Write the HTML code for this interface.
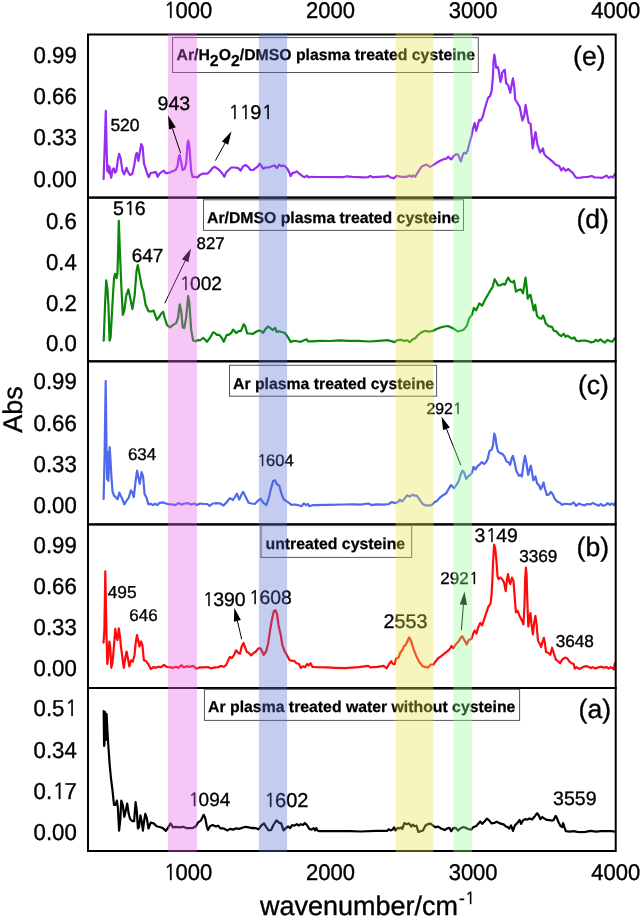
<!DOCTYPE html>
<html><head><meta charset="utf-8"><title>FTIR spectra</title>
<style>html,body{margin:0;padding:0;background:#fff;}svg{display:block;}</style>
</head><body>
<svg width="641" height="918" viewBox="0 0 641 918" font-family="'Liberation Sans', sans-serif" text-rendering="geometricPrecision">
<style>text{stroke:#000;stroke-width:0.35px}.b text{stroke-width:0.25px}</style>
<rect width="641" height="918" fill="#fff"/>
<path d="M103.6,179.1 L104.7,146.8 L105.8,110.8 L106.6,146.8 L107.3,171.2 L108.2,165.5 L108.9,173.0 L109.4,166.5 L110.3,174.0 L111.2,177.7 L112.6,169.3 L113.9,168.4 L115.0,172.6 L116.4,171.2 L117.8,159.9 L119.2,153.8 L120.6,158.1 L122.5,171.2 L124.2,174.4 L125.3,171.2 L126.5,167.9 L128.1,172.1 L130.0,174.9 L132.3,174.0 L134.2,165.5 L136.0,154.3 L137.0,152.9 L138.4,160.9 L139.8,152.4 L141.2,144.0 L142.6,146.8 L144.0,163.7 L145.9,169.3 L147.3,174.0 L148.7,177.2 L150.6,173.0 L152.9,172.6 L155.2,172.1 L156.2,172.4 L157.5,176.8 L160.0,173.1 L161.9,171.8 L163.7,170.6 L165.6,173.1 L167.5,173.1 L170.0,172.4 L172.5,171.2 L175.6,170.0 L177.5,166.2 L178.7,157.5 L179.7,155.0 L181.0,161.2 L182.5,170.0 L184.3,169.3 L186.2,163.7 L187.5,143.7 L188.3,140.6 L189.3,146.2 L191.2,171.2 L192.5,176.8 L195.0,176.8 L197.4,177.4 L200.0,174.9 L202.4,173.7 L204.9,173.7 L207.4,173.7 L209.9,171.2 L212.4,168.1 L214.9,166.8 L217.4,168.7 L219.9,170.6 L222.4,173.7 L224.3,176.8 L226.2,172.4 L228.7,170.0 L231.2,167.5 L235.0,167.5 L238.1,168.1 L240.6,170.6 L243.1,166.2 L245.6,165.0 L248.1,166.8 L250.6,170.0 L253.1,170.0 L255.6,168.1 L258.1,166.2 L259.7,163.7 L261.2,165.6 L263.1,168.7 L265.6,167.5 L268.7,167.5 L271.8,166.2 L274.3,165.3 L276.8,168.1 L279.3,164.7 L281.2,166.2 L283.1,165.6 L284.9,166.2 L287.4,168.7 L289.3,172.4 L290.6,176.2 L292.4,173.1 L294.9,172.4 L296.8,171.4 L299.3,173.7 L302.4,176.2 L304.9,177.2 L306.8,175.6 L308.7,177.4 L311.2,176.8 L315.0,177.0 L343.1,177.2 L346.8,176.3 L352.5,176.8 L363.7,177.4 L368.4,177.2 L370.2,175.9 L373.0,177.2 L378.7,176.8 L386.2,176.4 L387.7,175.5 L389.9,177.2 L393.7,178.3 L396.5,175.9 L401.1,176.8 L406.8,176.8 L409.6,175.5 L411.4,176.8 L413.3,175.3 L415.2,176.8 L418.0,172.1 L421.7,166.5 L426.4,164.6 L430.2,166.9 L434.7,164.1 L439.5,161.0 L444.2,158.9 L446.6,158.6 L448.2,156.7 L449.8,158.3 L451.3,159.4 L453.7,156.2 L456.1,154.2 L458.1,154.6 L459.7,158.6 L460.8,161.4 L462.4,156.2 L464.0,152.6 L466.0,153.5 L467.6,150.7 L469.5,142.8 L471.4,136.4 L473.0,128.5 L474.6,123.0 L476.2,130.9 L477.7,125.4 L479.3,119.8 L480.9,120.6 L483.0,115.9 L484.5,109.6 L486.6,102.5 L488.2,97.7 L490.1,96.1 L491.7,90.6 L492.9,76.4 L493.6,60.6 L494.3,54.5 L495.3,60.6 L496.1,67.7 L497.7,66.9 L498.8,70.8 L500.4,81.9 L501.9,76.4 L502.0,72.9 L504.3,70.0 L504.8,69.8 L506.1,83.1 L508.2,85.2 L510.2,92.7 L512.9,78.4 L514.3,87.2 L515.2,99.5 L517.7,103.5 L519.7,106.9 L522.4,120.5 L524.2,115.8 L525.6,104.9 L527.2,114.4 L528.6,122.6 L530.6,123.9 L532.7,148.4 L534.7,136.2 L535.6,132.1 L537.4,144.4 L540.1,152.5 L542.9,148.4 L544.2,153.9 L546.3,156.6 L549.0,158.6 L552.4,161.4 L555.8,164.8 L559.2,166.1 L561.4,170.4 L563.3,167.9 L565.6,170.7 L568.4,169.0 L570.3,170.9 L573.1,173.2 L575.4,177.0 L577.3,177.9 L580.6,177.6 L584.3,177.0 L588.1,176.8 L591.8,176.0 L594.6,177.5 L598.4,177.5 L601.7,177.9 L604.0,177.0 L606.8,175.6 L608.7,177.9 L611.0,176.5 L612.9,177.5 L614.8,174.2" fill="none" stroke="#962df0" stroke-width="2.2" stroke-linejoin="round" stroke-linecap="round"/>
<path d="M103.7,340.7 L105.1,303.2 L106.2,280.4 L107.4,288.5 L108.5,306.2 L109.6,340.7 L110.6,337.1 L112.5,303.2 L114.0,278.2 L115.1,273.8 L116.5,278.2 L117.4,273.8 L118.1,251.8 L118.8,220.9 L119.9,251.8 L121.3,285.6 L122.8,315.0 L124.3,310.6 L126.2,295.9 L128.4,289.3 L130.1,297.4 L132.4,309.1 L134.6,295.9 L136.5,270.9 L137.8,265.0 L139.4,273.8 L141.9,287.1 L143.4,291.5 L145.6,304.7 L148.5,311.3 L152.2,311.3 L153.7,310.6 L155.1,315.0 L156.9,319.9 L159.4,316.8 L161.2,313.7 L163.1,311.8 L165.0,318.7 L166.9,324.9 L170.0,327.4 L173.1,324.9 L176.2,323.1 L178.1,317.4 L179.7,304.3 L181.2,311.2 L182.7,327.4 L184.3,328.1 L186.2,317.4 L188.1,296.2 L189.3,302.5 L191.2,329.9 L193.1,340.5 L195.6,341.2 L198.1,339.9 L199.9,340.5 L203.1,338.0 L204.9,339.3 L206.8,341.8 L209.9,338.0 L213.1,332.4 L214.9,333.0 L216.8,334.9 L219.3,334.9 L221.8,338.0 L223.7,341.8 L226.8,334.9 L228.7,334.9 L231.2,333.0 L233.1,329.6 L236.2,333.1 L238.6,331.2 L240.9,331.2 L243.7,324.2 L245.3,326.5 L247.2,333.5 L249.5,333.5 L252.6,334.0 L255.7,332.0 L258.9,330.4 L261.2,331.2 L263.1,332.8 L265.6,328.9 L268.2,326.5 L271.3,328.9 L272.9,330.0 L275.2,327.8 L276.8,332.0 L279.1,331.2 L281.5,332.0 L284.6,332.8 L287.7,336.7 L290.8,342.1 L293.2,340.9 L296.3,341.0 L299.4,341.8 L301.8,341.3 L304.1,340.2 L306.4,339.3 L308.0,341.3 L311.1,341.3 L320.0,340.9 L330.0,341.0 L339.4,340.4 L348.7,340.9 L358.1,340.9 L369.3,341.5 L378.7,340.9 L388.1,340.2 L394.6,342.1 L397.4,340.2 L401.2,339.8 L404.0,340.9 L406.8,340.2 L409.6,342.1 L412.4,339.6 L415.2,338.3 L418.0,335.0 L421.8,332.1 L425.5,330.8 L429.3,331.6 L433.0,330.8 L436.7,329.0 L440.5,327.5 L444.2,326.5 L448.1,326.0 L451.2,327.5 L454.4,329.1 L457.5,331.4 L460.6,330.7 L463.7,329.6 L466.8,326.0 L469.2,318.2 L471.8,315.1 L473.9,308.0 L476.2,310.4 L479.3,303.4 L482.1,305.7 L484.8,300.2 L487.9,294.8 L491.0,289.3 L492.6,287.0 L494.6,279.2 L496.5,282.3 L498.0,285.4 L500.4,285.4 L502.7,283.9 L505.1,284.6 L506.6,280.7 L508.2,277.6 L510.5,281.5 L512.9,282.3 L514.0,280.7 L516.0,291.7 L518.3,290.1 L520.7,289.3 L523.0,293.2 L524.3,285.4 L525.5,277.6 L526.4,284.6 L527.7,298.7 L529.2,295.6 L530.5,294.8 L532.1,302.6 L533.6,310.4 L535.2,304.9 L537.0,315.8 L539.4,318.2 L541.5,318.7 L543.1,315.6 L544.4,318.7 L545.6,323.1 L548.7,326.2 L551.9,326.8 L553.7,330.6 L556.2,331.2 L558.7,334.3 L561.2,336.2 L563.7,333.7 L565.6,336.8 L567.5,335.6 L570.0,337.4 L572.5,338.7 L574.3,337.4 L576.2,340.6 L578.7,341.2 L581.8,340.6 L585.6,340.6 L588.1,341.2 L591.2,342.4 L593.7,341.8 L595.9,339.9 L598.1,341.2 L600.5,339.3 L602.4,341.2 L604.7,342.7 L607.4,339.9 L609.9,340.9 L612.2,341.8 L614.9,338.1" fill="none" stroke="#0a870a" stroke-width="2.2" stroke-linejoin="round" stroke-linecap="round"/>
<path d="M103.6,499.0 L104.6,455.0 L105.7,381.0 L106.5,450.0 L107.1,479.0 L107.6,452.0 L108.3,481.0 L109.7,447.0 L110.6,461.8 L111.5,477.9 L112.5,491.2 L114.0,495.6 L116.2,497.8 L117.6,499.3 L119.4,492.6 L120.6,495.6 L122.1,498.5 L124.3,504.4 L126.5,500.7 L128.7,497.8 L130.9,490.4 L132.4,492.6 L133.8,497.1 L135.6,480.9 L137.1,470.6 L138.5,477.9 L139.7,483.8 L141.6,472.1 L143.1,476.5 L144.6,494.1 L146.3,497.1 L148.5,504.4 L150.7,503.7 L152.9,505.1 L155.1,503.7 L157.3,505.1 L159.7,502.8 L162.8,502.4 L165.9,503.5 L169.0,504.3 L172.2,504.3 L175.3,505.1 L178.4,503.1 L181.5,504.6 L184.6,503.5 L187.8,503.1 L190.9,504.6 L194.0,503.5 L197.1,505.1 L200.2,503.5 L203.4,504.0 L207.3,504.0 L209.6,505.9 L212.7,503.5 L217.4,503.2 L220.5,503.5 L223.6,505.6 L226.8,502.0 L229.9,498.1 L233.0,500.0 L235.3,496.5 L236.9,493.7 L239.2,499.6 L241.6,494.6 L243.1,491.8 L245.5,496.5 L248.6,502.8 L251.7,503.5 L254.7,504.0 L257.8,500.9 L260.6,498.7 L263.3,502.9 L266.4,505.2 L268.7,498.2 L271.1,488.1 L273.1,481.1 L275.0,480.3 L276.8,484.2 L279.3,485.7 L281.2,492.8 L283.5,499.0 L286.7,501.3 L289.0,502.9 L291.3,504.9 L294.5,504.5 L298.4,505.2 L301.5,506.2 L303.8,503.4 L306.2,505.2 L308.0,504.0 L309.3,506.2 L312.4,505.2 L328.0,504.9 L343.6,504.5 L352.8,504.3 L360.6,504.6 L368.4,503.5 L371.5,505.1 L376.2,504.3 L384.0,504.6 L388.7,504.0 L391.8,502.0 L394.9,503.1 L398.0,502.0 L399.9,499.6 L401.9,501.5 L404.3,498.9 L407.1,495.3 L409.7,496.5 L412.9,494.6 L414.4,495.7 L416.8,495.7 L419.6,499.6 L422.2,503.5 L424.6,505.1 L427.7,505.6 L431.6,505.1 L434.7,502.0 L437.0,500.9 L439.4,498.1 L443.1,495.2 L446.2,493.3 L448.6,489.0 L450.9,485.1 L452.5,486.6 L454.0,488.2 L456.4,485.1 L458.7,481.2 L461.1,473.4 L462.6,470.6 L464.2,472.6 L466.2,478.8 L468.1,476.5 L470.4,474.6 L472.0,472.6 L473.5,466.8 L475.6,469.5 L477.4,466.3 L479.8,464.3 L481.8,462.1 L484.0,464.0 L486.0,462.1 L487.6,459.3 L489.6,450.7 L491.5,450.0 L493.0,445.3 L494.3,433.6 L495.4,436.7 L496.5,445.3 L498.0,451.5 L500.1,453.1 L502.4,453.9 L504.3,456.2 L506.3,461.2 L508.6,462.4 L510.2,464.8 L511.8,457.8 L513.0,455.9 L514.6,462.4 L516.4,471.0 L518.8,475.7 L520.3,474.9 L521.9,476.5 L523.5,464.0 L525.0,455.9 L526.6,464.0 L528.1,474.9 L529.4,470.2 L530.8,465.6 L532.0,471.8 L533.3,480.4 L534.4,478.8 L535.5,476.5 L536.7,481.9 L537.4,483.9 L539.0,485.2 L540.6,489.4 L542.3,485.9 L543.6,482.5 L544.9,488.5 L546.9,495.1 L548.9,494.5 L550.9,491.8 L552.9,494.5 L554.9,499.1 L557.5,501.8 L560.2,503.1 L562.2,504.8 L564.8,503.8 L568.2,504.0 L570.8,504.4 L573.7,502.4 L576.1,505.8 L578.8,503.5 L582.1,504.8 L584.7,505.4 L586.7,504.0 L590.0,504.4 L592.7,503.1 L596.0,504.4 L598.7,505.8 L600.6,504.0 L603.3,505.8 L606.0,504.8 L607.7,503.1 L609.9,504.8 L611.9,503.5 L613.9,505.1 L615.2,502.7" fill="none" stroke="#5068ec" stroke-width="2.2" stroke-linejoin="round" stroke-linecap="round"/>
<path d="M103.5,642.7 L104.4,630.2 L105.3,571.3 L106.0,610.1 L106.5,635.2 L107.3,664.0 L108.1,657.7 L109.4,641.5 L110.3,647.7 L111.3,667.8 L112.5,662.8 L113.8,647.7 L115.3,628.9 L116.5,637.7 L117.5,640.2 L118.8,628.3 L119.8,635.2 L121.1,647.7 L122.6,659.0 L123.8,667.8 L125.1,659.0 L126.6,651.5 L127.8,657.7 L129.4,666.5 L131.1,660.3 L132.8,661.5 L134.5,655.2 L135.7,642.7 L137.0,635.2 L138.2,640.2 L139.5,646.5 L141.1,641.5 L142.4,645.2 L143.9,660.3 L145.7,660.9 L148.2,664.0 L150.8,669.0 L153.3,667.1 L155.0,667.9 L158.1,666.8 L161.2,667.1 L164.0,664.8 L166.7,666.8 L169.8,667.1 L172.9,667.9 L176.1,666.8 L178.4,667.9 L181.2,665.2 L183.9,667.4 L187.0,666.3 L190.1,666.8 L193.2,665.9 L196.3,668.7 L199.5,667.4 L203.4,667.4 L208.0,667.1 L211.2,668.4 L215.1,667.4 L218.2,667.1 L221.3,665.9 L223.6,666.8 L226.0,665.2 L228.3,660.1 L229.9,657.0 L231.8,658.1 L233.8,655.4 L236.1,650.3 L237.7,652.3 L240.0,653.9 L241.6,646.8 L243.5,642.9 L245.2,647.6 L246.6,651.5 L248.9,653.0 L251.2,655.4 L253.6,653.0 L255.9,651.5 L258.3,648.4 L260.6,648.4 L262.2,651.5 L263.7,654.9 L266.1,651.5 L268.1,643.7 L270.0,631.2 L271.8,620.3 L273.9,610.9 L275.4,610.1 L277.0,614.0 L278.5,625.0 L280.6,634.3 L282.4,645.2 L284.8,651.5 L287.1,655.4 L289.5,660.1 L291.8,660.8 L294.1,660.8 L296.5,663.2 L298.8,663.7 L300.9,667.9 L303.0,666.3 L305.1,667.1 L307.1,664.0 L308.7,665.5 L310.5,663.2 L312.4,666.8 L316.8,667.1 L326.1,667.4 L335.5,667.9 L345.0,668.2 L358.7,667.1 L368.1,665.8 L370.4,667.4 L377.4,666.8 L383.7,665.8 L386.8,668.3 L389.1,664.0 L391.2,661.2 L392.7,663.7 L394.6,664.3 L396.2,658.5 L398.5,657.7 L400.1,653.0 L402.4,649.9 L404.0,646.0 L405.5,645.2 L407.4,641.3 L409.1,637.4 L411.0,640.6 L413.3,648.4 L416.4,656.2 L419.6,662.4 L422.7,666.3 L425.8,667.1 L428.1,667.4 L430.5,664.7 L433.6,664.3 L435.0,662.2 L437.9,658.5 L440.9,656.3 L443.8,654.1 L447.5,651.2 L449.7,649.0 L451.5,646.0 L453.4,648.2 L455.6,644.6 L458.5,641.6 L460.7,637.9 L462.2,636.2 L464.4,640.1 L466.6,644.6 L468.8,640.1 L471.5,638.7 L473.5,632.8 L474.7,630.6 L476.5,633.5 L478.4,626.9 L480.3,622.9 L482.1,625.4 L484.3,618.8 L486.5,612.2 L488.2,607.1 L490.6,603.4 L491.6,593.8 L492.4,579.1 L493.1,561.5 L494.1,544.6 L495.3,549.0 L496.5,561.5 L497.5,576.2 L498.5,579.1 L500.4,577.6 L502.1,579.0 L504.0,582.6 L505.7,591.1 L507.1,578.3 L508.1,574.1 L509.2,581.2 L510.2,584.0 L512.0,577.6 L513.5,581.2 L514.9,599.6 L515.9,612.3 L517.7,610.9 L519.8,616.6 L522.0,620.8 L523.4,624.4 L524.4,606.7 L525.2,578.3 L525.9,567.7 L526.6,575.5 L527.3,599.6 L528.3,626.5 L529.5,618.0 L530.5,613.0 L531.4,623.7 L532.9,634.3 L534.0,623.7 L535.4,615.9 L536.5,623.7 L538.0,640.7 L539.7,643.5 L541.1,647.0 L542.5,642.1 L543.9,637.8 L545.0,643.5 L546.0,652.0 L548.2,652.7 L550.3,654.8 L552.1,647.7 L553.8,653.4 L556.0,659.8 L558.1,661.2 L560.2,663.3 L561.9,660.1 L563.7,658.3 L565.6,657.6 L567.5,658.7 L569.4,661.5 L571.2,662.9 L573.6,663.9 L574.8,668.6 L576.4,667.2 L577.8,668.1 L579.7,669.0 L582.5,667.3 L585.3,666.2 L588.1,666.7 L590.9,668.1 L592.8,667.2 L595.6,668.6 L598.4,667.3 L601.2,666.7 L604.0,667.6 L606.8,667.2 L608.7,668.6 L610.6,667.2 L612.4,668.1 L613.8,669.5 L614.8,663.4" fill="none" stroke="#ff0a0a" stroke-width="2.2" stroke-linejoin="round" stroke-linecap="round"/>
<path d="M104.1,746.0 L103.7,711.0 L104.4,745.0 L105.1,712.0 L105.9,740.0 L106.6,714.0 L107.4,730.0 L108.1,742.0 L109.6,763.8 L111.0,778.5 L112.5,790.3 L114.0,805.0 L115.4,805.0 L116.9,800.6 L117.9,807.9 L119.1,830.7 L120.3,819.7 L121.3,800.6 L122.8,805.0 L124.3,816.8 L125.7,810.9 L127.2,803.5 L128.7,813.8 L130.1,819.0 L132.4,821.2 L134.1,821.2 L135.6,802.1 L136.8,810.9 L137.9,828.5 L139.0,827.1 L140.4,815.3 L141.9,822.6 L142.9,830.7 L144.1,821.2 L145.3,813.8 L146.8,818.2 L148.5,828.5 L150.7,822.6 L153.7,823.4 L156.6,826.3 L160.5,827.3 L162.8,828.1 L165.9,830.9 L168.3,827.3 L170.6,823.4 L172.9,827.3 L176.1,826.8 L179.2,827.3 L183.1,826.8 L186.2,828.1 L190.1,828.1 L193.2,827.8 L195.9,826.2 L197.9,822.6 L201.0,820.3 L203.7,814.8 L205.2,817.9 L206.8,826.5 L208.0,830.0 L209.9,826.2 L212.7,825.0 L215.8,826.5 L218.2,825.7 L220.5,828.4 L223.6,828.4 L227.5,830.4 L229.9,828.9 L233.0,829.6 L236.1,828.4 L239.2,828.9 L242.4,827.8 L245.5,826.8 L248.6,827.3 L251.7,828.1 L253.1,827.8 L256.2,828.4 L258.6,829.3 L261.2,825.7 L264.0,823.4 L266.4,827.3 L268.7,830.4 L271.1,830.0 L273.4,825.0 L276.5,820.3 L278.9,822.6 L281.2,823.4 L283.5,830.4 L285.9,828.1 L288.2,826.5 L290.2,828.1 L292.1,825.0 L294.5,825.7 L296.8,824.2 L298.7,825.7 L300.7,824.2 L303.0,825.0 L304.9,823.1 L306.9,825.0 L309.3,828.9 L311.6,829.6 L313.7,828.1 L315.2,830.4 L316.3,828.1 L317.4,830.4 L319.4,831.2 L328.0,831.2 L340.5,831.2 L350.0,831.2 L360.6,831.5 L376.2,830.9 L387.1,830.9 L388.7,829.3 L390.6,830.4 L392.6,829.6 L394.1,827.3 L395.7,830.4 L397.7,827.8 L399.6,828.4 L401.2,827.3 L402.4,828.9 L404.3,823.1 L406.6,824.2 L409.0,823.4 L411.3,826.5 L412.9,824.6 L414.4,826.2 L416.5,825.7 L418.3,832.0 L420.7,831.2 L423.0,830.4 L425.3,825.7 L427.7,824.2 L430.5,823.7 L433.1,825.7 L435.5,827.3 L437.8,826.5 L440.9,828.4 L442.3,829.0 L444.7,830.1 L447.0,828.5 L449.4,827.8 L451.2,831.2 L453.3,828.1 L455.6,827.8 L457.9,830.6 L460.3,828.5 L463.4,827.0 L465.7,827.8 L468.1,829.0 L471.2,829.6 L473.5,827.0 L475.9,826.2 L478.2,823.9 L480.2,821.5 L482.1,823.9 L484.5,821.5 L486.8,818.7 L489.1,820.3 L491.5,823.4 L494.6,822.8 L496.9,821.8 L499.3,823.1 L501.6,823.9 L504.0,824.6 L505.5,826.2 L507.4,827.0 L509.4,828.5 L511.0,825.4 L513.0,830.9 L514.9,825.4 L517.2,823.1 L519.6,820.0 L521.1,823.9 L522.7,820.7 L525.0,819.2 L527.4,819.6 L529.7,818.4 L532.0,819.6 L534.4,816.8 L536.7,813.7 L537.4,813.3 L539.0,815.9 L540.3,819.2 L542.3,817.0 L544.3,818.6 L546.9,819.9 L549.6,820.2 L552.2,820.6 L553.6,819.9 L555.6,815.9 L556.9,817.9 L558.6,822.5 L560.5,825.9 L562.2,827.2 L563.1,823.2 L564.2,826.5 L565.8,831.2 L569.5,831.6 L573.5,831.2 L577.4,831.8 L581.4,832.1 L585.4,831.8 L590.7,830.8 L596.0,831.6 L601.3,831.2 L606.6,831.2 L611.9,831.2 L614.6,831.6" fill="none" stroke="#000000" stroke-width="2.2" stroke-linejoin="round" stroke-linecap="round"/>
<rect x="88.0" y="34.5" width="527.70" height="163.10" fill="none" stroke="#000" stroke-width="2"/>
<rect x="88.0" y="197.6" width="527.70" height="163.70" fill="none" stroke="#000" stroke-width="2"/>
<rect x="88.0" y="361.3" width="527.70" height="163.10" fill="none" stroke="#000" stroke-width="2"/>
<rect x="88.0" y="524.4" width="527.70" height="163.60" fill="none" stroke="#000" stroke-width="2"/>
<rect x="88.0" y="688.0" width="527.70" height="163.00" fill="none" stroke="#000" stroke-width="2"/>
<text transform="translate(187.8,17.7) scale(1,1.035)" x="-24.46" font-size="22"><tspan font-family="NanumGothic" font-size="21.01" dx="0.44">1</tspan><tspan dx="-0.94">0</tspan>00</text>
<text transform="translate(187.8,880.2) scale(1,1.035)" x="-24.46" font-size="22"><tspan font-family="NanumGothic" font-size="21.01" dx="0.44">1</tspan><tspan dx="-0.94">0</tspan>00</text>
<text transform="translate(330.5,17.7) scale(1,1.035)" x="-24.46" font-size="22">2000</text>
<text transform="translate(330.5,880.2) scale(1,1.035)" x="-24.46" font-size="22">2000</text>
<text transform="translate(473.1,17.7) scale(1,1.035)" x="-24.46" font-size="22">3000</text>
<text transform="translate(473.1,880.2) scale(1,1.035)" x="-24.46" font-size="22">3000</text>
<text transform="translate(615.7,17.7) scale(1,1.035)" x="-24.46" font-size="22">4000</text>
<text transform="translate(615.7,880.2) scale(1,1.035)" x="-24.46" font-size="22">4000</text>
<text transform="translate(76.8,63.0) scale(1,1.04)" x="-43.20" font-size="22.2">0.99</text>
<text transform="translate(76.8,104.1) scale(1,1.04)" x="-43.20" font-size="22.2">0.66</text>
<text transform="translate(76.8,145.1) scale(1,1.04)" x="-43.20" font-size="22.2">0.33</text>
<text transform="translate(76.8,186.5) scale(1,1.04)" x="-43.20" font-size="22.2">0.00</text>
<text transform="translate(76.8,229.3) scale(1,1.04)" x="-30.86" font-size="22.2">0.6</text>
<text transform="translate(76.8,270.0) scale(1,1.04)" x="-30.86" font-size="22.2">0.4</text>
<text transform="translate(76.8,310.5) scale(1,1.04)" x="-30.86" font-size="22.2">0.2</text>
<text transform="translate(76.8,351.0) scale(1,1.04)" x="-30.86" font-size="22.2">0.0</text>
<text transform="translate(76.8,389.3) scale(1,1.04)" x="-43.20" font-size="22.2">0.99</text>
<text transform="translate(76.8,431.2) scale(1,1.04)" x="-43.20" font-size="22.2">0.66</text>
<text transform="translate(76.8,472.2) scale(1,1.04)" x="-43.20" font-size="22.2">0.33</text>
<text transform="translate(76.8,513.2) scale(1,1.04)" x="-43.20" font-size="22.2">0.00</text>
<text transform="translate(76.8,552.8) scale(1,1.04)" x="-43.20" font-size="22.2">0.99</text>
<text transform="translate(76.8,594.2) scale(1,1.04)" x="-43.20" font-size="22.2">0.66</text>
<text transform="translate(76.8,635.2) scale(1,1.04)" x="-43.20" font-size="22.2">0.33</text>
<text transform="translate(76.8,676.2) scale(1,1.04)" x="-43.20" font-size="22.2">0.00</text>
<text transform="translate(76.8,716.3) scale(1,1.04)" x="-43.20" font-size="22.2">0.5<tspan font-family="NanumGothic" font-size="21.20" dx="0.44">1</tspan></text>
<text transform="translate(76.8,757.7) scale(1,1.04)" x="-43.20" font-size="22.2">0.34</text>
<text transform="translate(76.8,799.0) scale(1,1.04)" x="-43.20" font-size="22.2">0.<tspan font-family="NanumGothic" font-size="21.20" dx="0.44">1</tspan><tspan dx="-0.95">7</tspan></text>
<text transform="translate(76.8,839.9) scale(1,1.04)" x="-43.20" font-size="22.2">0.00</text>
<text transform="translate(22.3,409.5) rotate(-90)" font-size="27" text-anchor="middle">Abs</text>
<text x="260" y="914.5" font-size="27">wavenumber/cm<tspan font-size="17.5" dx="0.8" dy="-10.7">-</tspan><tspan font-family="NanumGothic" font-size="16.7" dx="0.35">1</tspan></text>
<rect x="172.6" y="37.6" width="305.7" height="34.9" fill="#fff" stroke="#555" stroke-width="1"/>
<rect x="203.5" y="199.8" width="260.0" height="30.6" fill="#fff" stroke="#555" stroke-width="1"/>
<rect x="229.5" y="365.3" width="207.1" height="30.9" fill="#fff" stroke="#555" stroke-width="1"/>
<rect x="261.0" y="525.6" width="150.7" height="31.8" fill="#fff" stroke="#555" stroke-width="1"/>
<rect x="204.4" y="689.3" width="315.2" height="31.1" fill="#fff" stroke="#555" stroke-width="1"/>
<g class="b" font-weight="bold" font-size="15.8">
<text x="176.5" y="60">Ar/H<tspan dy="6">2</tspan><tspan dy="-6">O</tspan><tspan dy="6">2</tspan><tspan dy="-6">/DMSO plasma treated cysteine</tspan></text>
<text x="207.0" y="222.6">Ar/DMSO plasma treated cysteine</text>
<text x="233" y="388.5">Ar plasma treated cysteine</text>
<text x="265.5" y="549">untreated cysteine</text>
<text x="208.1" y="712">Ar plasma treated water without cysteine</text>
</g>
<text x="589.3" y="65.2" font-size="26.6" text-anchor="middle">(e)</text>
<text x="592.7" y="228.2" font-size="26.6" text-anchor="middle">(d)</text>
<text x="593.4" y="394.4" font-size="26.6" text-anchor="middle">(c)</text>
<text x="592.85" y="556.2" font-size="26.6" text-anchor="middle">(b)</text>
<text x="594.8" y="718.4" font-size="26.6" text-anchor="middle">(a)</text>
<text x="110.4" y="130.5" font-size="17.5">520</text>
<text x="112.9" y="215.0" font-size="19.6">5<tspan font-family="NanumGothic" font-size="18.72" dx="0.39">1</tspan><tspan dx="-0.84">6</tspan></text>
<text x="131.7" y="261.9" font-size="19">647</text>
<text x="196.6" y="249.2" font-size="16.8">827</text>
<text x="179.3" y="289.6" font-size="19.2"><tspan font-family="NanumGothic" font-size="18.34" dx="0.38">1</tspan><tspan dx="-0.82">0</tspan>02</text>
<text x="127.9" y="460.2" font-size="17">634</text>
<text x="256.8" y="466.0" font-size="16.6"><tspan font-family="NanumGothic" font-size="15.85" dx="0.33">1</tspan><tspan dx="-0.71">6</tspan>04</text>
<text x="426.4" y="414.0" font-size="15.8">292<tspan font-family="NanumGothic" font-size="15.09" dx="0.32">1</tspan></text>
<text x="107.75" y="597.7" font-size="17.3">495</text>
<text x="129.3" y="621.1" font-size="17">646</text>
<text x="202.3" y="605.9" font-size="19.5"><tspan font-family="NanumGothic" font-size="18.62" dx="0.39">1</tspan><tspan dx="-0.83">3</tspan>90</text>
<text x="248.6" y="603.5" font-size="19.4"><tspan font-family="NanumGothic" font-size="18.53" dx="0.39">1</tspan><tspan dx="-0.83">6</tspan>08</text>
<text x="383.5" y="628.3" font-size="19.8">2553</text>
<text x="440.3" y="583.5" font-size="17">292<tspan font-family="NanumGothic" font-size="16.23" dx="0.34">1</tspan></text>
<text x="474.6" y="541.7" font-size="19.4">3<tspan font-family="NanumGothic" font-size="18.53" dx="0.39">1</tspan><tspan dx="-0.83">4</tspan>9</text>
<text x="519.2" y="562.0" font-size="17.2">3369</text>
<text x="555.7" y="646.5" font-size="17.2">3648</text>
<text x="188.0" y="806.0" font-size="19"><tspan font-family="NanumGothic" font-size="18.14" dx="0.38">1</tspan><tspan dx="-0.81">0</tspan>94</text>
<text x="263.9" y="807.0" font-size="20"><tspan font-family="NanumGothic" font-size="19.10" dx="0.40">1</tspan><tspan dx="-0.85">6</tspan>02</text>
<text x="553.1" y="804.9" font-size="19.5">3559</text>
<line x1="164.75" y1="303.2" x2="185.2" y2="260.8" stroke="#000" stroke-width="1"/>
<path d="M191.0,248.6 L188.4,262.3 L181.9,259.2 Z" fill="#000"/>
<line x1="460.8" y1="465.2" x2="446.5" y2="429.0" stroke="#000" stroke-width="1"/>
<path d="M441.5,416.4 L449.8,427.6 L443.1,430.3 Z" fill="#000"/>
<line x1="241.7" y1="639.2" x2="237.4" y2="620.9" stroke="#000" stroke-width="1"/>
<path d="M234.3,607.8 L240.9,620.1 L233.9,621.8 Z" fill="#000"/>
<line x1="461.4" y1="630.0" x2="463.4" y2="604.9" stroke="#000" stroke-width="1"/>
<path d="M464.5,591.4 L467.0,605.1 L459.8,604.6 Z" fill="#000"/>
<rect x="168.0" y="33.5" width="29.00" height="818.5" fill="rgb(229,92,229)" fill-opacity="0.35"/>
<rect x="258.9" y="33.5" width="28.20" height="818.5" fill="rgb(86,109,212)" fill-opacity="0.35"/>
<rect x="395.6" y="33.5" width="37.80" height="818.5" fill="rgb(232,226,69)" fill-opacity="0.35"/>
<rect x="453.3" y="33.5" width="18.70" height="818.5" fill="rgb(149,252,149)" fill-opacity="0.35"/>
<text x="157.6" y="109.9" font-size="19.5">943</text>
<text x="228.1" y="119.4" font-size="19.9"><tspan font-family="NanumGothic" font-size="19.00" dx="0.40">1</tspan><tspan font-family="NanumGothic" font-size="19.00" dx="-0.45">1</tspan><tspan dx="-0.85">9</tspan><tspan font-family="NanumGothic" font-size="19.00" dx="0.40">1</tspan></text>
<line x1="180.6" y1="153.1" x2="172.4" y2="128.4" stroke="#000" stroke-width="1"/>
<path d="M168.1,115.6 L175.8,127.3 L169.0,129.5 Z" fill="#000"/>
<line x1="215.4" y1="160.6" x2="225.0" y2="143.1" stroke="#000" stroke-width="1"/>
<path d="M231.5,131.2 L228.2,144.8 L221.9,141.4 Z" fill="#000"/>
</svg>
</body></html>
